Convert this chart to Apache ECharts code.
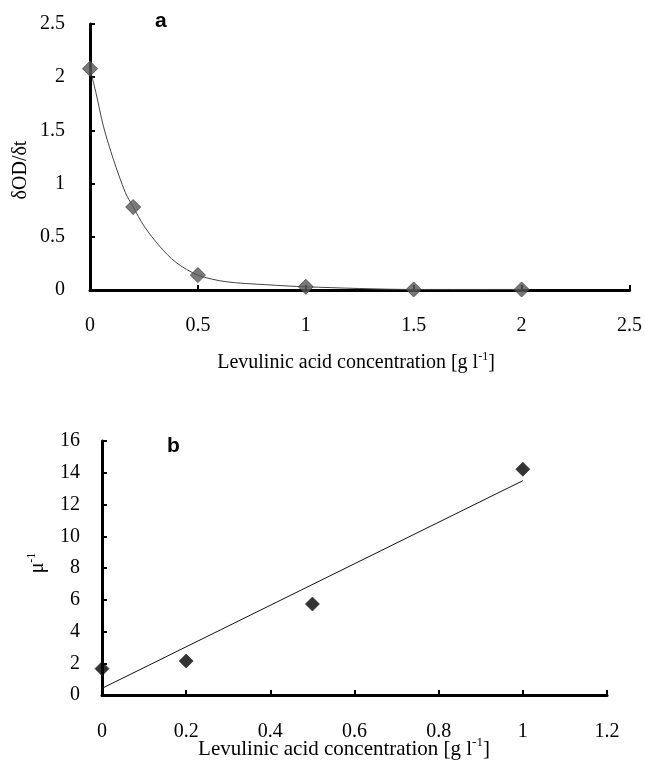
<!DOCTYPE html>
<html>
<head>
<meta charset="utf-8">
<script src="https://cdn.jsdelivr.net/npm/echarts@6/dist/echarts.min.js"></script>
<style>html,body{margin:0;padding:0;background:#fff}#c{width:645px;height:760px}</style>
</head>
<body>
<div id="c"></div>
<script>
// Panel a: measured points
var concA = [0, 0.2, 0.5, 1, 1.5, 2];
var rateA = [2.08, 0.78, 0.14, 0.03, 0.005, 0.005];
// Panel a: fitted curve
var fitX = [0, 0.028, 0.062, 0.108, 0.164, 0.2, 0.251, 0.321, 0.398, 0.5, 0.63, 0.815, 1, 1.5, 2];
var fitY = [2.08, 1.85, 1.54, 1.23, 0.915, 0.78, 0.60, 0.415, 0.26, 0.14, 0.078, 0.05, 0.03, 0.005, 0.005];
// Panel b: measured points and linear trend line
var concB = [0, 0.2, 0.5, 1];
var invMuB = [1.66, 2.14, 5.73, 14.22];
var trendX = [0, 1];
var trendY = [0.42, 13.5];

var serif = '"Liberation Serif", "Times New Roman", serif';
var chart = echarts.init(document.getElementById('c'), null, {renderer: 'canvas'});

function axisCommon(margin) {
  return {
    axisLine: {show: true, onZero: false, lineStyle: {color: '#000', width: 3}},
    axisTick: {show: true, inside: true, length: 5, lineStyle: {color: '#000', width: 2}},
    splitLine: {show: false},
    axisLabel: {color: '#000', fontFamily: serif, fontSize: 20, margin: margin}
  };
}

function rich(fs) {
  return {
    n: {fontFamily: serif, fontSize: fs, color: '#000', lineHeight: fs + 4},
    s: {fontFamily: serif, fontSize: Math.round(fs * 0.62), color: '#000', verticalAlign: 'top', lineHeight: fs + 4}
  };
}

chart.setOption({
  animation: false,
  backgroundColor: '#fff',
  grid: [
    {left: 90, right: 15, top: 24, bottom: 470, containLabel: false},
    {left: 102, right: 38, top: 441, bottom: 65, containLabel: false}
  ],
  xAxis: [
    Object.assign({type: 'value', gridIndex: 0, min: 0, max: 2.5, interval: 0.5}, axisCommon(26)),
    Object.assign({type: 'value', gridIndex: 1, min: 0, max: 1.2, interval: 0.2}, axisCommon(27))
  ],
  yAxis: [
    Object.assign({type: 'value', gridIndex: 0, min: 0, max: 2.5, interval: 0.5}, axisCommon(25)),
    Object.assign({type: 'value', gridIndex: 1, min: 0, max: 16, interval: 2}, axisCommon(22))
  ],
  series: [
    {
      type: 'line', xAxisIndex: 0, yAxisIndex: 0,
      data: fitX.map(function (x, i) { return [x, fitY[i]]; }),
      smooth: 0.3,
      showSymbol: false, symbol: 'none',
      lineStyle: {color: '#444', width: 1},
      z: 2
    },
    {
      type: 'scatter', xAxisIndex: 0, yAxisIndex: 0,
      data: concA.map(function (x, i) { return [x, rateA[i]]; }),
      symbol: 'diamond', symbolSize: 15,
      itemStyle: {color: '#575757', borderColor: '#444', borderWidth: 1},
      z: 4
    },
    {
      type: 'line', xAxisIndex: 1, yAxisIndex: 1,
      data: trendX.map(function (x, i) { return [x, trendY[i]]; }),
      showSymbol: false, symbol: 'none',
      lineStyle: {color: '#111', width: 1},
      z: 2
    },
    {
      type: 'scatter', xAxisIndex: 1, yAxisIndex: 1,
      data: concB.map(function (x, i) { return [x, invMuB[i]]; }),
      symbol: 'diamond', symbolSize: 14,
      itemStyle: {color: '#000', borderColor: '#222', borderWidth: 0.8},
      z: 4
    }
  ],
  graphic: [
    {type: 'text', left: 155, top: 11, style: {text: 'a', font: 'bold 21px "Liberation Sans", Arial, sans-serif', fill: '#000'}},
    {type: 'text', left: 167, top: 436, style: {text: 'b', font: 'bold 21px "Liberation Sans", Arial, sans-serif', fill: '#000'}},
    {type: 'text', x: 356, y: 363, style: {text: '{n|Levulinic acid concentration [g l}{s|-1}{n|]}', rich: rich(20), align: 'center', verticalAlign: 'middle'}},
    {type: 'text', x: 344, y: 749, style: {text: '{n|Levulinic acid concentration [g l}{s|-1}{n|]}', rich: rich(21), align: 'center', verticalAlign: 'middle'}},
    {type: 'text', x: 21, y: 170, rotation: Math.PI / 2, style: {text: 'δOD/δt', font: '20px ' + serif, fill: '#000', align: 'center', verticalAlign: 'middle'}},
    {type: 'text', x: 38, y: 563, rotation: Math.PI / 2, style: {text: '{n|μ}{s|-1}', rich: rich(20), align: 'center', verticalAlign: 'middle'}}
  ]
});
</script>
</body>
</html>
